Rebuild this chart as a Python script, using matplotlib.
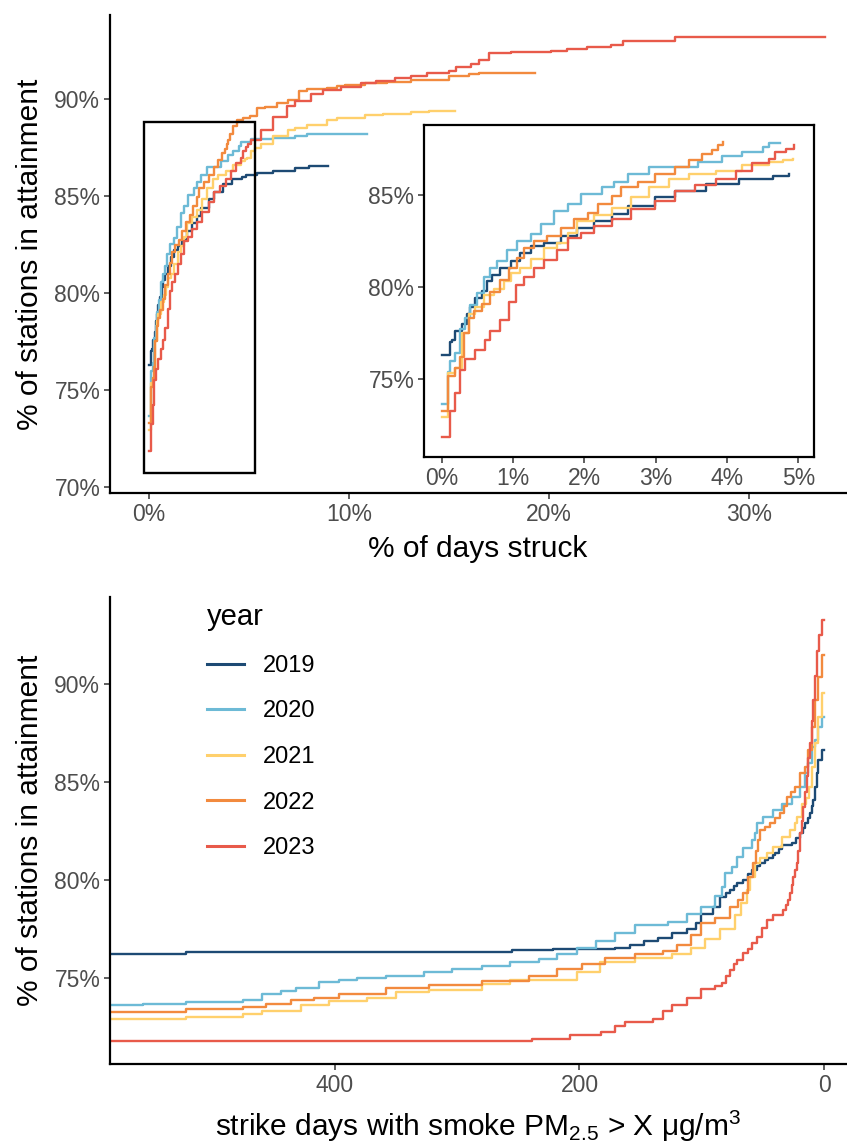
import numpy as np
import matplotlib
matplotlib.use('Agg')
import matplotlib.pyplot as plt
from matplotlib.patches import Rectangle
from matplotlib.ticker import FuncFormatter

plt.rcParams['font.family'] = ['Liberation Sans', 'DejaVu Sans']
plt.rcParams['mathtext.fontset'] = 'custom'
plt.rcParams['mathtext.rm'] = 'Liberation Sans'
plt.rcParams['mathtext.it'] = 'Liberation Sans:italic'
plt.rcParams['mathtext.default'] = 'regular'

years = ['2019', '2020', '2021', '2022', '2023']
colors = ['#1D4A74', '#6DBAD6', '#FFD06C', '#F28A3E', '#E85A4A']

# --- top panel: % of days struck -> % of stations in attainment ---
struck_2019 = [0, 0.11, 0.14, 0.19, 0.28, 0.35, 0.40, 0.47, 0.56, 0.64, 0.71, 0.82, 0.97, 1.10, 1.25,
               1.44, 1.67, 1.90, 2.14, 2.38, 2.61, 2.99, 3.27, 3.70, 4.17, 4.64, 4.87, 5.4, 6.2, 7.3, 8.0, 8.96]
attain_2019 = [76.3, 77.0, 77.1, 77.6, 78.0, 78.55, 78.9, 79.4, 79.8, 80.3, 80.65, 81.0, 81.4, 81.85, 82.2,
               82.4, 82.75, 83.2, 83.6, 83.95, 84.4, 84.85, 85.2, 85.6, 85.86, 86.0, 86.1, 86.2, 86.3, 86.45, 86.55, 86.55]

struck_2020 = [0, 0.08, 0.12, 0.19, 0.26, 0.33, 0.40, 0.49, 0.59, 0.68, 0.78, 0.92, 1.06, 1.25, 1.39, 1.58,
               1.77, 1.95, 2.24, 2.42, 2.61, 2.90, 3.60, 3.93, 4.21, 4.50, 4.59, 4.75, 5.1, 6.2, 7.3, 7.9, 10.9]
attain_2020 = [73.67, 75.4, 75.98, 76.4, 77.7, 78.3, 79.0, 79.65, 80.55, 81.0, 81.4, 82.0, 82.5, 82.85, 83.4, 84.1,
               84.5, 85.05, 85.4, 85.7, 86.1, 86.5, 86.8, 87.1, 87.3, 87.6, 87.8, 87.8, 87.95, 88.0, 88.1, 88.2, 88.2]

struck_2021 = [0, 0.09, 0.19, 0.28, 0.38, 0.47, 0.59, 0.73, 0.87, 0.97, 1.10, 1.25, 1.44, 1.62, 1.77, 1.90,
               2.14, 2.38, 2.66, 2.90, 3.18, 3.46, 3.84, 4.21, 4.59, 4.78, 4.92, 5.1, 5.3, 5.6, 6.2, 6.96, 7.3,
               7.9, 8.9, 9.4, 10.8, 11.7, 13.1, 14.0, 15.3]
attain_2021 = [72.93, 75.35, 75.6, 77.5, 78.55, 78.9, 79.55, 79.9, 80.3, 80.75, 81.0, 81.5, 82.1, 82.4, 82.9, 83.6,
               83.9, 84.3, 84.85, 85.4, 85.86, 86.1, 86.3, 86.6, 86.8, 86.9, 86.95, 87.3, 87.45, 87.7, 88.1, 88.4, 88.5,
               88.65, 88.9, 89.0, 89.15, 89.25, 89.35, 89.4, 89.4]

struck_2022 = [0, 0.09, 0.19, 0.26, 0.31, 0.38, 0.45, 0.56, 0.68, 0.82, 0.94, 1.06, 1.15, 1.29, 1.48, 1.67,
               1.86, 2.05, 2.19, 2.38, 2.52, 2.75, 2.99, 3.27, 3.46, 3.65, 3.79, 3.88, 3.95, 4.05, 4.2, 4.4, 4.7,
               5.05, 5.4, 5.8, 6.4, 6.96, 7.5, 7.9, 8.9, 9.4, 9.8, 10.8, 11.9, 13.1, 14.2, 15.0, 16.0, 16.5, 19.3]
attain_2022 = [73.3, 75.16, 75.6, 76.2, 77.5, 78.3, 78.7, 79.1, 79.7, 80.4, 81.0, 81.56, 82.1, 82.48, 82.75, 83.2,
               83.67, 84.0, 84.5, 84.95, 85.4, 85.7, 86.1, 86.5, 86.86, 87.2, 87.4, 87.7, 87.87, 88.2, 88.6, 88.9, 89.0,
               89.1, 89.55, 89.6, 89.8, 89.97, 90.4, 90.53, 90.58, 90.65, 90.72, 90.85, 90.9, 90.97, 91.0, 91.2, 91.27,
               91.35, 91.35]

struck_2023 = [0, 0.11, 0.19, 0.26, 0.33, 0.47, 0.61, 0.68, 0.82, 0.94, 1.04, 1.15, 1.29, 1.44, 1.62, 1.77,
               1.95, 2.14, 2.38, 2.66, 2.99, 3.27, 3.55, 3.84, 4.12, 4.35, 4.59, 4.68, 4.83, 4.94, 5.1, 5.6, 6.2,
               6.9, 7.3, 8.1, 8.7, 9.6, 10.6, 11.35, 12.3, 13.1, 13.9, 15.0, 15.35, 16.1, 16.5, 17.0, 18.1, 20.1,
               20.9, 21.9, 23.1, 23.7, 26.3, 33.8]
attain_2023 = [71.84, 73.25, 74.25, 75.5, 76.1, 76.6, 77.1, 77.6, 78.2, 79.2, 80.1, 80.56, 81.0, 81.47, 82.0, 82.66,
               82.9, 83.3, 83.67, 84.2, 84.67, 85.2, 85.5, 85.86, 86.3, 86.7, 86.96, 87.3, 87.5, 87.7, 87.9, 88.4, 89.05,
               89.65, 89.9, 90.25, 90.45, 90.6, 90.8, 90.95, 91.1, 91.2, 91.35, 91.43, 91.65, 91.8, 92.03, 92.35, 92.4,
               92.5, 92.6, 92.7, 92.8, 93.0, 93.2, 93.2]

# --- bottom panel: strike days with smoke PM2.5 > X -> % of stations in attainment ---
days_2019 = [600, 522, 255, 222, 171, 159, 147, 136, 124, 112, 105, 101, 91, 85, 80, 77, 74, 71.4, 66, 62, 59,
             55, 52.4, 48, 45.5, 42, 40, 37, 34.6, 26.4, 23, 19.6, 17.5, 15.5, 13.5, 11.5, 10, 8.7, 7.4, 6, 4.6,
             1.9, 0]
smoke_2019 = [76.2, 76.3, 76.41, 76.46, 76.55, 76.7, 76.9, 77.05, 77.3, 77.5, 77.8, 78.24, 78.6, 79.15, 79.35,
              79.5, 79.7, 79.83, 80.0, 80.3, 80.5, 80.7, 80.87, 81.0, 81.1, 81.25, 81.37, 81.6, 81.8, 81.9, 82.15,
              82.4, 82.65, 82.9, 83.15, 83.4, 83.75, 84.08, 84.76, 85.45, 86.1, 86.63, 86.63]

days_2020 = [600, 557, 522, 475, 460, 444, 432, 413, 397, 382, 358, 327, 304, 280, 257, 233, 218, 202, 186.5,
             171, 155, 128, 112, 101, 89, 83.7, 81, 75.5, 71.4, 66, 59, 56.5, 55, 49.7, 41.5, 34.6, 26.4, 19.6,
             15.5, 12.8, 10.1, 7.4, 4.6, 1.9, 0]
smoke_2020 = [73.6, 73.67, 73.75, 73.9, 74.2, 74.35, 74.5, 74.8, 74.9, 75.0, 75.1, 75.3, 75.45, 75.6, 75.8, 75.95,
              76.2, 76.55, 76.9, 77.3, 77.7, 77.85, 78.24, 78.6, 79.2, 79.66, 80.34, 80.68, 81.19, 81.63, 82.04,
              82.4, 82.9, 83.23, 83.57, 83.9, 84.25, 84.76, 85.45, 85.97, 86.8, 87.14, 87.82, 88.33, 88.33]

days_2021 = [600, 522, 475, 460, 428, 405, 374, 350, 323, 280, 257, 202, 183, 155, 124, 108.5, 97, 85, 73,
             68, 63.2, 60.5, 56.5, 52.4, 46.9, 41.5, 34.6, 27.8, 24, 22.3, 18.3, 15, 12, 10.1, 7.4, 4.6, 1.9, 0]
smoke_2021 = [72.9, 73.0, 73.16, 73.33, 73.6, 73.8, 74.0, 74.26, 74.4, 74.7, 74.9, 75.3, 75.8, 76.04, 76.2, 76.55,
              76.97, 77.5, 78.2, 78.8, 79.5, 80.17, 80.87, 81.1, 81.37, 81.7, 82.2, 82.55, 82.9, 83.23, 83.9, 84.2,
              84.76, 85.78, 86.98, 88.33, 89.54, 89.54]

days_2022 = [600, 522, 475, 456, 436, 417, 397, 358, 323, 280, 241, 218, 198, 179, 155, 132, 120, 108.5, 100.7,
             89, 77, 70, 66, 62, 57.8, 55.5, 53.7, 52.4, 48, 44, 40, 36, 33, 30.5, 27, 23.7, 19.6, 15.5, 12.8,
             10.1, 7.4, 4.6, 1.9, 0]
smoke_2022 = [73.25, 73.4, 73.5, 73.67, 73.9, 74.0, 74.2, 74.47, 74.64, 74.86, 75.1, 75.45, 75.7, 76.04, 76.2, 76.4,
              76.7, 77.2, 77.8, 78.07, 78.6, 79.0, 79.33, 80.17, 80.87, 81.5, 82.04, 82.55, 82.7, 82.9, 83.15, 83.4,
              83.8, 84.25, 84.5, 84.76, 85.45, 85.78, 86.63, 87.8, 89.18, 90.37, 91.48, 91.48]

days_2023 = [600, 239, 208, 182.6, 171, 163, 140, 132, 124, 112, 100.7, 89, 83.7, 80, 77, 74, 71.4, 66, 62, 59,
             55, 51, 46.9, 41.5, 33.3, 31, 29.2, 27.8, 26.3, 25, 23.6, 22.3, 21, 19.6, 18.3, 17, 15.6, 14.2, 12.8,
             11.5, 10.1, 8.7, 7.3, 6, 4, 1.9, 0]
smoke_2023 = [71.78, 71.87, 72.07, 72.24, 72.57, 72.74, 72.9, 73.33, 73.6, 74.0, 74.43, 74.6, 74.74, 75.1, 75.4,
              75.7, 75.92, 76.27, 76.5, 76.78, 77.1, 77.55, 77.96, 78.2, 78.47, 78.7, 78.98, 79.33, 79.75, 80.17,
              80.5, 80.87, 81.5, 82.4, 83.0, 83.74, 84.5, 85.3, 86.2, 87.0, 88.1, 89.2, 90.4, 91.7, 92.5, 93.27, 93.27]

struck = [struck_2019, struck_2020, struck_2021, struck_2022, struck_2023]
attain = [attain_2019, attain_2020, attain_2021, attain_2022, attain_2023]
days = [days_2019, days_2020, days_2021, days_2022, days_2023]
smoke = [smoke_2019, smoke_2020, smoke_2021, smoke_2022, smoke_2023]

W, H = 847, 1144
fig = plt.figure(figsize=(W / 100, H / 100), dpi=100)


def box(l, t, r, b):
    # pixel box -> figure fraction
    return [l / W, 1 - b / H, (r - l) / W, (b - t) / H]


pct = FuncFormatter(lambda v, p: f'{v:g}%')
tick_kw = dict(length=4, width=1.1, color='#333333', labelcolor='#4D4D4D', labelsize=16.5, pad=3)


def style(ax, full=False):
    for s in ['top', 'right']:
        ax.spines[s].set_visible(full)
    for s in ax.spines.values():
        s.set_linewidth(1.6)
    ax.tick_params(**tick_kw)


ax1 = fig.add_axes(box(110, 15, 847, 493))
for x, y, c in zip(struck, attain, colors):
    ax1.step(x, y, where='post', color=c, lw=1.7)
ax1.add_patch(Rectangle((-0.25, 70.7), 5.55, 18.1, fill=False, ec='black', lw=1.7, zorder=5))
ax1.set_xlim(-1.95, 34.9)
ax1.set_ylim(69.69, 94.33)
ax1.set_xticks([0, 10, 20, 30])
ax1.set_yticks([70, 75, 80, 85, 90])
ax1.xaxis.set_major_formatter(pct)
ax1.yaxis.set_major_formatter(pct)
style(ax1)

axin = fig.add_axes(box(424, 125, 814, 457))
for x, y, c in zip(struck, attain, colors):
    x = np.array(x)
    y = np.array(y)
    keep = (x <= 5) & (y < 88)
    axin.step(x[keep], y[keep], where='post', color=c, lw=1.7)
axin.set_xlim(-0.25, 5.22)
axin.set_ylim(70.78, 88.78)
axin.set_xticks([0, 1, 2, 3, 4, 5])
axin.set_yticks([75, 80, 85])
axin.xaxis.set_major_formatter(pct)
axin.yaxis.set_major_formatter(pct)
style(axin, full=True)

ax2 = fig.add_axes(box(110, 597, 847, 1064))
for x, y, c, yr in zip(days, smoke, colors, years):
    ax2.step(x, y, where='post', color=c, lw=1.7, label=yr)
ax2.set_xlim(584, -18.8)
ax2.set_ylim(70.61, 94.44)
ax2.set_xticks([400, 200, 0])
ax2.set_yticks([75, 80, 85, 90])
ax2.yaxis.set_major_formatter(pct)
style(ax2)

leg = ax2.legend(title='year', loc='upper left', bbox_to_anchor=(186 / W, 1 - 582 / H),
                 bbox_transform=fig.transFigure, frameon=False, fontsize=17, title_fontsize=21,
                 handlelength=1.55, handletextpad=0.8, labelspacing=1.0)
leg._legend_box.align = 'left'
for h in leg.get_lines():
    h.set_linewidth(2.2)

fig.text(30 / W, 1 - 254 / H, '% of stations in attainment', rotation=90, ha='center', va='center', fontsize=21.5)
fig.text(30 / W, 1 - 830 / H, '% of stations in attainment', rotation=90, ha='center', va='center', fontsize=21.5)
fig.text(478 / W, 1 - 549 / H, '% of days struck', ha='center', va='center', fontsize=21.5)
fig.text(478 / W, 1 - 1126 / H, r'strike days with smoke PM$_{2.5}$ > X μg/m$^{3}$', ha='center', va='center',
         fontsize=21.5)

fig.savefig('out.png', dpi=100)
